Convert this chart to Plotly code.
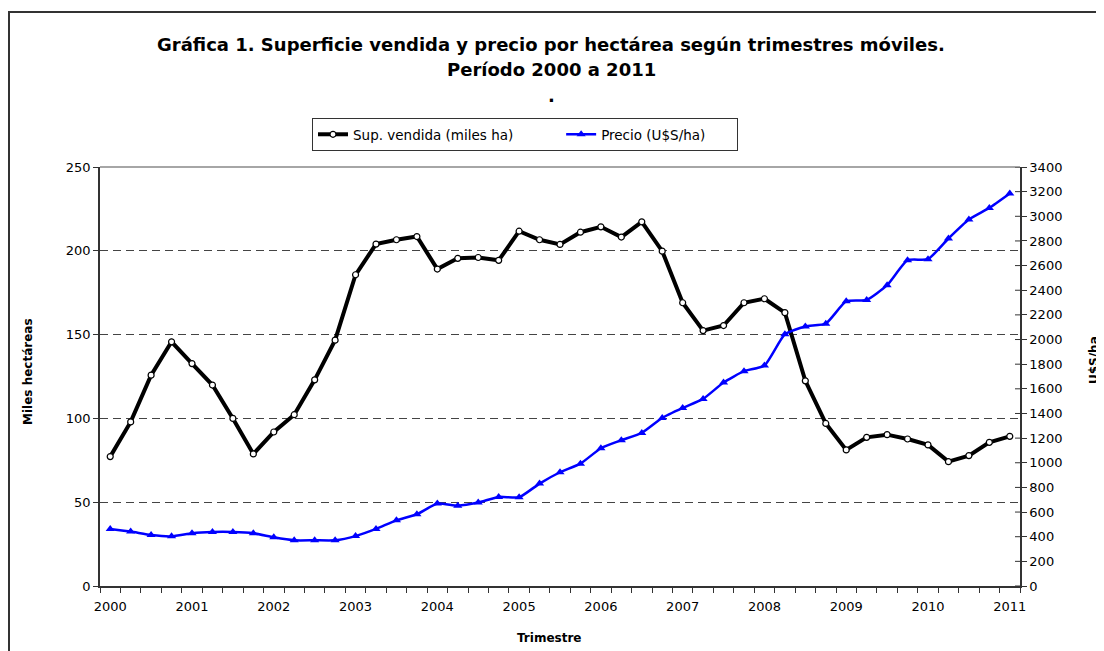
import plotly.graph_objects as go

# Data (quarterly moving windows, 2000 Q1 .. 2011 Q1)
trimestres = [f"{y}-T{q}" for y in range(2000, 2012) for q in range(1, 5)][:45]
anios = ["2000", "2001", "2002", "2003", "2004", "2005", "2006", "2007", "2008", "2009", "2010", "2011"]

sup_vendida = [77.2, 97.9, 125.8, 145.7, 132.7, 119.9, 100.0, 78.8, 91.9, 102.2, 123.0, 146.7,
               185.7, 204.0, 206.6, 208.5, 189.1, 195.5, 196.0, 194.3, 211.7, 206.6, 203.8, 211.1,
               214.3, 208.2, 217.3, 199.8, 169.0, 152.4, 155.4, 169.0, 171.4, 163.1, 122.4, 97.0,
               81.2, 88.7, 90.3, 87.7, 84.2, 74.2, 77.8, 85.7, 89.3]

precio = [463, 442, 414, 403, 428, 438, 438, 428, 395, 371, 371, 371, 405,
          463, 533, 582, 669, 652, 677, 723, 720, 831, 923, 993, 1118,
          1183, 1242, 1364, 1445, 1518, 1651, 1743, 1789, 2043, 2106, 2129,
          2311, 2321, 2441, 2644, 2652, 2820, 2974, 3068, 3185]

left_ticks = [0, 50, 100, 150, 200, 250]
right_ticks = list(range(0, 3401, 200))

OFF = 8  # page body margin
W, H = 1096, 643
# plot area in screen pixels: x 100..1020, y 167..586
L, R, T, B = 100 - OFF, W - (1020 - OFF), 167 - OFF, H - (586 - OFF)
PW, PH = W - L - R, H - T - B

def px_x(p):
    return (p - OFF - L) / PW

def px_y(p):
    return (H - B - (p - OFF)) / PH

FONT = "DejaVu Sans, Arial, sans-serif"
NB = "\u00a0"

xi = list(range(len(trimestres)))

fig = go.Figure()
fig.add_trace(go.Scatter(
    x=xi, y=sup_vendida, name="Sup. vendida (miles ha)" + NB * 10, mode="lines+markers",
    line=dict(color="#000000", width=4),
    marker=dict(symbol="circle", size=6, color="white", line=dict(color="black", width=1.2)),
    yaxis="y", hovertext=trimestres,
))
fig.add_trace(go.Scatter(
    x=xi, y=precio, name="Precio (U$S/ha)" + NB * 6, mode="lines+markers",
    line=dict(color="#0000FF", width=2.5, shape="spline", smoothing=0.5),
    marker=dict(symbol="triangle-up", size=8, color="#0000FF"),
    yaxis="y2", hovertext=trimestres,
))

fig.update_layout(
    width=W, height=H,
    margin=dict(l=L, r=R, t=T, b=B),
    paper_bgcolor="white", plot_bgcolor="white",
    font=dict(family=FONT, size=13, color="#000000"),
    showlegend=True,
    legend=dict(orientation="h", x=px_x(525), y=px_y(118), xanchor="center", yanchor="top",
                bordercolor="#333333", borderwidth=1, bgcolor="white",
                font=dict(family=FONT, size=13.5), itemwidth=30,
                tracegroupgap=0),
    xaxis=dict(
        range=[-0.5, len(trimestres) - 0.5],
        tickmode="array", tickvals=[i * 4 for i in range(len(anios))], ticktext=anios,
        ticks="", showgrid=False, zeroline=False,
        showline=True, linecolor="#333333", linewidth=1.5,
        minor=dict(ticks="outside", tick0=-0.5, dtick=1, ticklen=5, tickcolor="#333333", showgrid=False),
        tickfont=dict(size=13), ticklabelstandoff=8,
    ),
    yaxis=dict(
        range=[0, 250], tickvals=left_ticks, ticks="outside", ticklen=5, tickcolor="#333333",
        showline=True, linecolor="#333333", linewidth=1.5,
        showgrid=True, gridcolor="#444444", griddash="8px,5px", gridwidth=1,
        zeroline=False, tickfont=dict(size=13),
    ),
    yaxis2=dict(
        range=[0, 3400], tickvals=right_ticks, overlaying="y", side="right",
        ticks="outside", ticklen=5, tickcolor="#333333",
        showline=True, linecolor="#333333", linewidth=1.5,
        showgrid=False, zeroline=False, tickfont=dict(size=13),
    ),
)

shapes = [
    # plot area top border
    dict(type="line", xref="paper", yref="paper", x0=0, x1=1, y0=1, y1=1,
         line=dict(color="#888888", width=1.5)),
    # outer chart frame
    dict(type="rect", xref="paper", yref="paper", x0=px_x(9), x1=px_x(1140), y0=px_y(12), y1=px_y(700),
         line=dict(color="#333333", width=2), fillcolor="rgba(0,0,0,0)", layer="below"),
]
# inner halves of the crossing ticks on the right axis
for v in right_ticks:
    shapes.append(dict(type="line", xref="paper", yref="y2", x0=1 - 5 / PW, x1=1, y0=v, y1=v,
                       line=dict(color="#333333", width=1)))
fig.update_layout(shapes=shapes)

ann = [
    dict(text="<b>Gráfica 1. Superficie vendida y precio por hectárea según trimestres móviles.</b>",
         x=px_x(551), y=px_y(45), xref="paper", yref="paper", showarrow=False,
         font=dict(size=18, family=FONT), xanchor="center", yanchor="middle"),
    dict(text="<b>Período 2000 a 2011</b>",
         x=px_x(551), y=px_y(69), xref="paper", yref="paper", showarrow=False,
         font=dict(size=18, family=FONT), xanchor="center", yanchor="middle"),
    dict(text="<b>.</b>",
         x=px_x(551), y=px_y(95), xref="paper", yref="paper", showarrow=False,
         font=dict(size=18, family=FONT), xanchor="center", yanchor="middle"),
    dict(text="<b>Miles hectáreas</b>", textangle=-90,
         x=px_x(28), y=px_y(372), xref="paper", yref="paper", showarrow=False,
         font=dict(size=12, family=FONT), xanchor="center", yanchor="middle"),
    dict(text="<b>U$S/ha</b>", textangle=-90,
         x=px_x(1094), y=px_y(360), xref="paper", yref="paper", showarrow=False,
         font=dict(size=12, family=FONT), xanchor="center", yanchor="middle"),
    dict(text="<b>Trimestre</b>",
         x=px_x(549), y=px_y(638), xref="paper", yref="paper", showarrow=False,
         font=dict(size=12, family=FONT), xanchor="center", yanchor="middle"),
]
fig.update_layout(annotations=ann)

fig.write_html("out.html")
